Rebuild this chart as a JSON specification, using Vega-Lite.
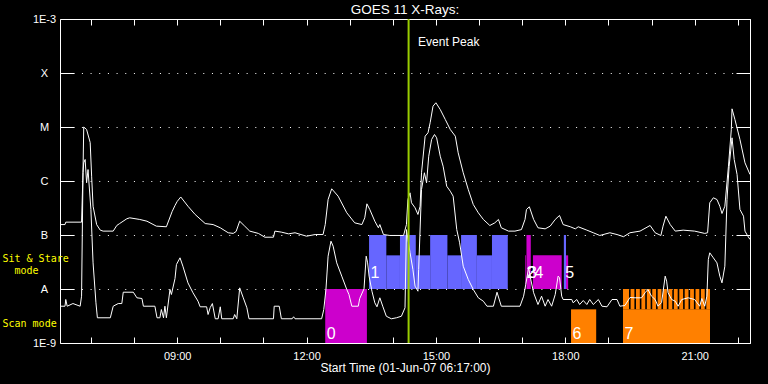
{
  "$schema": "https://vega.github.io/schema/vega-lite/v6.json",
  "width": 690,
  "height": 324,
  "autosize": {"type": "none"},
  "padding": {"left": 60, "top": 19, "right": 18, "bottom": 41},
  "background": "black",
  "title": {"text": "GOES 11 X-Rays:", "color": "white", "font": "Liberation Sans", "fontSize": 13.5, "fontWeight": "normal", "anchor": "middle", "baseline": "alphabetic", "offset": -14.5},
  "config": {
    "view": {"stroke": "white", "strokeWidth": 1},
    "axis": {"domain": false, "tickColor": "white", "labelColor": "white", "titleColor": "white", "labelFont": "Liberation Sans", "titleFont": "Liberation Sans", "titleFontWeight": "normal", "gridColor": "white", "labelFlush": false, "labelOverlap": false, "labelBound": false}
  },
  "datasets": {
    "xr": [
      {"time":"2007-06-01T06:17","flux":1.56e-7,"band":"long"},
      {"time":"2007-06-01T06:24","flux":1.56e-7,"band":"long"},
      {"time":"2007-06-01T06:25","flux":1.73e-7,"band":"long"},
      {"time":"2007-06-01T06:47","flux":1.73e-7,"band":"long"},
      {"time":"2007-06-01T06:49","flux":1.44e-6,"band":"long"},
      {"time":"2007-06-01T06:50","flux":1.0e-5,"band":"long"},
      {"time":"2007-06-01T06:54","flux":9.0e-6,"band":"long"},
      {"time":"2007-06-01T06:59","flux":5.16e-6,"band":"long"},
      {"time":"2007-06-01T07:01","flux":1.23e-6,"band":"long"},
      {"time":"2007-06-01T07:03","flux":3.41e-7,"band":"long"},
      {"time":"2007-06-01T07:08","flux":1.56e-7,"band":"long"},
      {"time":"2007-06-01T07:13","flux":1.23e-7,"band":"long"},
      {"time":"2007-06-01T07:17","flux":1.18e-7,"band":"long"},
      {"time":"2007-06-01T07:31","flux":1.18e-7,"band":"long"},
      {"time":"2007-06-01T07:36","flux":1.50e-7,"band":"long"},
      {"time":"2007-06-01T07:40","flux":1.63e-7,"band":"long"},
      {"time":"2007-06-01T07:50","flux":2.0e-7,"band":"long"},
      {"time":"2007-06-01T07:54","flux":2.08e-7,"band":"long"},
      {"time":"2007-06-01T08:08","flux":1.94e-7,"band":"long"},
      {"time":"2007-06-01T08:18","flux":1.80e-7,"band":"long"},
      {"time":"2007-06-01T08:31","flux":1.46e-7,"band":"long"},
      {"time":"2007-06-01T08:45","flux":1.42e-7,"band":"long"},
      {"time":"2007-06-01T08:53","flux":2.72e-7,"band":"long"},
      {"time":"2007-06-01T08:57","flux":3.52e-7,"band":"long"},
      {"time":"2007-06-01T09:00","flux":4.17e-7,"band":"long"},
      {"time":"2007-06-01T09:05","flux":5.06e-7,"band":"long"},
      {"time":"2007-06-01T09:15","flux":3.41e-7,"band":"long"},
      {"time":"2007-06-01T09:25","flux":2.40e-7,"band":"long"},
      {"time":"2007-06-01T09:39","flux":1.63e-7,"band":"long"},
      {"time":"2007-06-01T09:50","flux":1.56e-7,"band":"long"},
      {"time":"2007-06-01T10:00","flux":1.36e-7,"band":"long"},
      {"time":"2007-06-01T10:11","flux":1.10e-7,"band":"long"},
      {"time":"2007-06-01T10:18","flux":1.07e-7,"band":"long"},
      {"time":"2007-06-01T10:22","flux":1.16e-7,"band":"long"},
      {"time":"2007-06-01T10:27","flux":1.80e-7,"band":"long"},
      {"time":"2007-06-01T10:34","flux":1.46e-7,"band":"long"},
      {"time":"2007-06-01T10:41","flux":1.18e-7,"band":"long"},
      {"time":"2007-06-01T10:53","flux":1.07e-7,"band":"long"},
      {"time":"2007-06-01T11:02","flux":9.1e-8,"band":"long"},
      {"time":"2007-06-01T11:14","flux":9.1e-8,"band":"long"},
      {"time":"2007-06-01T11:16","flux":1.18e-7,"band":"long"},
      {"time":"2007-06-01T11:25","flux":1.13e-7,"band":"long"},
      {"time":"2007-06-01T11:35","flux":1.05e-7,"band":"long"},
      {"time":"2007-06-01T11:44","flux":1.10e-7,"band":"long"},
      {"time":"2007-06-01T12:00","flux":9.5e-8,"band":"long"},
      {"time":"2007-06-01T12:12","flux":1.02e-7,"band":"long"},
      {"time":"2007-06-01T12:23","flux":1.02e-7,"band":"long"},
      {"time":"2007-06-01T12:26","flux":1.56e-7,"band":"long"},
      {"time":"2007-06-01T12:30","flux":4.54e-7,"band":"long"},
      {"time":"2007-06-01T12:35","flux":7.17e-7,"band":"long"},
      {"time":"2007-06-01T12:44","flux":5.23e-7,"band":"long"},
      {"time":"2007-06-01T12:56","flux":2.58e-7,"band":"long"},
      {"time":"2007-06-01T13:07","flux":1.68e-7,"band":"long"},
      {"time":"2007-06-01T13:17","flux":1.56e-7,"band":"long"},
      {"time":"2007-06-01T13:21","flux":2.08e-7,"band":"long"},
      {"time":"2007-06-01T13:24","flux":3.78e-7,"band":"long"},
      {"time":"2007-06-01T13:28","flux":2.97e-7,"band":"long"},
      {"time":"2007-06-01T13:35","flux":1.80e-7,"band":"long"},
      {"time":"2007-06-01T13:40","flux":1.36e-7,"band":"long"},
      {"time":"2007-06-01T13:42","flux":1.56e-7,"band":"long"},
      {"time":"2007-06-01T13:47","flux":1.02e-7,"band":"long"},
      {"time":"2007-06-01T13:56","flux":9.8e-8,"band":"long"},
      {"time":"2007-06-01T14:15","flux":9.8e-8,"band":"long"},
      {"time":"2007-06-01T14:19","flux":1.56e-7,"band":"long"},
      {"time":"2007-06-01T14:21","flux":4.54e-7,"band":"long"},
      {"time":"2007-06-01T14:24","flux":6.04e-7,"band":"long"},
      {"time":"2007-06-01T14:26","flux":3.95e-7,"band":"long"},
      {"time":"2007-06-01T14:31","flux":3.19e-7,"band":"long"},
      {"time":"2007-06-01T14:35","flux":2.40e-7,"band":"long"},
      {"time":"2007-06-01T14:38","flux":3.41e-7,"band":"long"},
      {"time":"2007-06-01T14:40","flux":1.42e-6,"band":"long"},
      {"time":"2007-06-01T14:45","flux":6.76e-6,"band":"long"},
      {"time":"2007-06-01T14:49","flux":7.81e-6,"band":"long"},
      {"time":"2007-06-01T14:52","flux":1.20e-5,"band":"long"},
      {"time":"2007-06-01T14:56","flux":2.43e-5,"band":"long"},
      {"time":"2007-06-01T15:00","flux":2.81e-5,"band":"long"},
      {"time":"2007-06-01T15:06","flux":2.11e-5,"band":"long"},
      {"time":"2007-06-01T15:13","flux":1.38e-5,"band":"long"},
      {"time":"2007-06-01T15:20","flux":9.0e-6,"band":"long"},
      {"time":"2007-06-01T15:27","flux":6.76e-6,"band":"long"},
      {"time":"2007-06-01T15:31","flux":3.33e-6,"band":"long"},
      {"time":"2007-06-01T15:38","flux":1.42e-6,"band":"long"},
      {"time":"2007-06-01T15:45","flux":6.96e-7,"band":"long"},
      {"time":"2007-06-01T15:52","flux":3.67e-7,"band":"long"},
      {"time":"2007-06-01T15:59","flux":2.58e-7,"band":"long"},
      {"time":"2007-06-01T16:06","flux":1.94e-7,"band":"long"},
      {"time":"2007-06-01T16:15","flux":1.50e-7,"band":"long"},
      {"time":"2007-06-01T16:22","flux":1.68e-7,"band":"long"},
      {"time":"2007-06-01T16:27","flux":1.94e-7,"band":"long"},
      {"time":"2007-06-01T16:31","flux":1.36e-7,"band":"long"},
      {"time":"2007-06-01T16:41","flux":1.18e-7,"band":"long"},
      {"time":"2007-06-01T16:50","flux":1.18e-7,"band":"long"},
      {"time":"2007-06-01T16:59","flux":1.26e-7,"band":"long"},
      {"time":"2007-06-01T17:04","flux":1.94e-7,"band":"long"},
      {"time":"2007-06-01T17:06","flux":2.97e-7,"band":"long"},
      {"time":"2007-06-01T17:10","flux":3.33e-7,"band":"long"},
      {"time":"2007-06-01T17:16","flux":1.94e-7,"band":"long"},
      {"time":"2007-06-01T17:22","flux":1.36e-7,"band":"long"},
      {"time":"2007-06-01T17:32","flux":1.30e-7,"band":"long"},
      {"time":"2007-06-01T17:39","flux":1.46e-7,"band":"long"},
      {"time":"2007-06-01T17:46","flux":1.94e-7,"band":"long"},
      {"time":"2007-06-01T17:52","flux":2.30e-7,"band":"long"},
      {"time":"2007-06-01T17:57","flux":1.56e-7,"band":"long"},
      {"time":"2007-06-01T18:07","flux":1.42e-7,"band":"long"},
      {"time":"2007-06-01T18:14","flux":1.30e-7,"band":"long"},
      {"time":"2007-06-01T18:18","flux":1.42e-7,"band":"long"},
      {"time":"2007-06-01T18:30","flux":1.23e-7,"band":"long"},
      {"time":"2007-06-01T18:39","flux":1.10e-7,"band":"long"},
      {"time":"2007-06-01T18:48","flux":9.8e-8,"band":"long"},
      {"time":"2007-06-01T19:02","flux":1.10e-7,"band":"long"},
      {"time":"2007-06-01T19:12","flux":1.02e-7,"band":"long"},
      {"time":"2007-06-01T19:21","flux":9.3e-8,"band":"long"},
      {"time":"2007-06-01T19:30","flux":1.10e-7,"band":"long"},
      {"time":"2007-06-01T19:44","flux":1.18e-7,"band":"long"},
      {"time":"2007-06-01T19:58","flux":1.50e-7,"band":"long"},
      {"time":"2007-06-01T20:05","flux":1.10e-7,"band":"long"},
      {"time":"2007-06-01T20:13","flux":9.8e-8,"band":"long"},
      {"time":"2007-06-01T20:16","flux":1.46e-7,"band":"long"},
      {"time":"2007-06-01T20:20","flux":2.23e-7,"band":"long"},
      {"time":"2007-06-01T20:26","flux":1.56e-7,"band":"long"},
      {"time":"2007-06-01T20:33","flux":1.18e-7,"band":"long"},
      {"time":"2007-06-01T20:44","flux":1.23e-7,"band":"long"},
      {"time":"2007-06-01T21:00","flux":1.18e-7,"band":"long"},
      {"time":"2007-06-01T21:14","flux":1.07e-7,"band":"long"},
      {"time":"2007-06-01T21:18","flux":1.10e-7,"band":"long"},
      {"time":"2007-06-01T21:21","flux":3.95e-7,"band":"long"},
      {"time":"2007-06-01T21:26","flux":4.89e-7,"band":"long"},
      {"time":"2007-06-01T21:31","flux":4.54e-7,"band":"long"},
      {"time":"2007-06-01T21:35","flux":3.41e-7,"band":"long"},
      {"time":"2007-06-01T21:38","flux":2.50e-7,"band":"long"},
      {"time":"2007-06-01T21:42","flux":3.41e-7,"band":"long"},
      {"time":"2007-06-01T21:47","flux":1.88e-6,"band":"long"},
      {"time":"2007-06-01T21:51","flux":9.0e-6,"band":"long"},
      {"time":"2007-06-01T21:52","flux":2.17e-5,"band":"long"},
      {"time":"2007-06-01T21:56","flux":1.38e-5,"band":"long"},
      {"time":"2007-06-01T22:03","flux":5.87e-6,"band":"long"},
      {"time":"2007-06-01T22:10","flux":2.17e-6,"band":"long"},
      {"time":"2007-06-01T22:17","flux":1.32e-6,"band":"long"},
      {"time":"2007-06-01T06:17","flux":4.80e-9,"band":"short"},
      {"time":"2007-06-01T06:24","flux":4.80e-9,"band":"short"},
      {"time":"2007-06-01T06:25","flux":6.39e-9,"band":"short"},
      {"time":"2007-06-01T06:27","flux":4.80e-9,"band":"short"},
      {"time":"2007-06-01T06:35","flux":5.38e-9,"band":"short"},
      {"time":"2007-06-01T06:45","flux":4.80e-9,"band":"short"},
      {"time":"2007-06-01T06:47","flux":7.36e-9,"band":"short"},
      {"time":"2007-06-01T06:49","flux":1.42e-6,"band":"short"},
      {"time":"2007-06-01T06:50","flux":2.17e-6,"band":"short"},
      {"time":"2007-06-01T06:52","flux":2.50e-6,"band":"short"},
      {"time":"2007-06-01T06:54","flux":9.27e-7,"band":"short"},
      {"time":"2007-06-01T06:56","flux":1.63e-6,"band":"short"},
      {"time":"2007-06-01T07:00","flux":2.97e-7,"band":"short"},
      {"time":"2007-06-01T07:03","flux":3.05e-8,"band":"short"},
      {"time":"2007-06-01T07:07","flux":5.55e-9,"band":"short"},
      {"time":"2007-06-01T07:09","flux":2.93e-9,"band":"short"},
      {"time":"2007-06-01T07:27","flux":2.93e-9,"band":"short"},
      {"time":"2007-06-01T07:31","flux":4.80e-9,"band":"short"},
      {"time":"2007-06-01T07:38","flux":5.38e-9,"band":"short"},
      {"time":"2007-06-01T07:43","flux":5.38e-9,"band":"short"},
      {"time":"2007-06-01T07:45","flux":8.72e-9,"band":"short"},
      {"time":"2007-06-01T07:59","flux":8.72e-9,"band":"short"},
      {"time":"2007-06-01T08:04","flux":6.87e-9,"band":"short"},
      {"time":"2007-06-01T08:11","flux":6.67e-9,"band":"short"},
      {"time":"2007-06-01T08:13","flux":4.80e-9,"band":"short"},
      {"time":"2007-06-01T08:29","flux":4.80e-9,"band":"short"},
      {"time":"2007-06-01T08:32","flux":2.93e-9,"band":"short"},
      {"time":"2007-06-01T08:36","flux":2.93e-9,"band":"short"},
      {"time":"2007-06-01T08:38","flux":4.17e-9,"band":"short"},
      {"time":"2007-06-01T08:41","flux":2.93e-9,"band":"short"},
      {"time":"2007-06-01T08:43","flux":4.80e-9,"band":"short"},
      {"time":"2007-06-01T08:45","flux":2.93e-9,"band":"short"},
      {"time":"2007-06-01T08:50","flux":9.8e-9,"band":"short"},
      {"time":"2007-06-01T08:52","flux":7.91e-9,"band":"short"},
      {"time":"2007-06-01T08:57","flux":1.56e-8,"band":"short"},
      {"time":"2007-06-01T08:59","flux":2.84e-8,"band":"short"},
      {"time":"2007-06-01T09:04","flux":3.78e-8,"band":"short"},
      {"time":"2007-06-01T09:08","flux":2.64e-8,"band":"short"},
      {"time":"2007-06-01T09:15","flux":1.30e-8,"band":"short"},
      {"time":"2007-06-01T09:22","flux":8.51e-9,"band":"short"},
      {"time":"2007-06-01T09:29","flux":5.94e-9,"band":"short"},
      {"time":"2007-06-01T09:32","flux":4.68e-9,"band":"short"},
      {"time":"2007-06-01T09:41","flux":4.68e-9,"band":"short"},
      {"time":"2007-06-01T09:43","flux":3.37e-9,"band":"short"},
      {"time":"2007-06-01T09:46","flux":4.54e-9,"band":"short"},
      {"time":"2007-06-01T09:49","flux":5.38e-9,"band":"short"},
      {"time":"2007-06-01T09:53","flux":2.81e-9,"band":"short"},
      {"time":"2007-06-01T09:57","flux":2.81e-9,"band":"short"},
      {"time":"2007-06-01T10:00","flux":4.68e-9,"band":"short"},
      {"time":"2007-06-01T10:02","flux":2.81e-9,"band":"short"},
      {"time":"2007-06-01T10:18","flux":2.81e-9,"band":"short"},
      {"time":"2007-06-01T10:20","flux":3.37e-9,"band":"short"},
      {"time":"2007-06-01T10:23","flux":2.81e-9,"band":"short"},
      {"time":"2007-06-01T10:27","flux":1.05e-8,"band":"short"},
      {"time":"2007-06-01T10:32","flux":6.87e-9,"band":"short"},
      {"time":"2007-06-01T10:37","flux":4.49e-9,"band":"short"},
      {"time":"2007-06-01T10:40","flux":2.81e-9,"band":"short"},
      {"time":"2007-06-01T11:14","flux":2.81e-9,"band":"short"},
      {"time":"2007-06-01T11:15","flux":4.80e-9,"band":"short"},
      {"time":"2007-06-01T11:22","flux":4.80e-9,"band":"short"},
      {"time":"2007-06-01T11:25","flux":2.81e-9,"band":"short"},
      {"time":"2007-06-01T11:40","flux":2.81e-9,"band":"short"},
      {"time":"2007-06-01T11:42","flux":3.06e-9,"band":"short"},
      {"time":"2007-06-01T11:44","flux":2.81e-9,"band":"short"},
      {"time":"2007-06-01T12:21","flux":2.81e-9,"band":"short"},
      {"time":"2007-06-01T12:24","flux":4.17e-9,"band":"short"},
      {"time":"2007-06-01T12:27","flux":9.8e-9,"band":"short"},
      {"time":"2007-06-01T12:30","flux":4.05e-8,"band":"short"},
      {"time":"2007-06-01T12:34","flux":7.68e-8,"band":"short"},
      {"time":"2007-06-01T12:37","flux":6.2e-8,"band":"short"},
      {"time":"2007-06-01T12:42","flux":3.05e-8,"band":"short"},
      {"time":"2007-06-01T12:49","flux":1.73e-8,"band":"short"},
      {"time":"2007-06-01T12:56","flux":9.8e-9,"band":"short"},
      {"time":"2007-06-01T12:59","flux":7.91e-9,"band":"short"},
      {"time":"2007-06-01T13:03","flux":4.80e-9,"band":"short"},
      {"time":"2007-06-01T13:12","flux":4.80e-9,"band":"short"},
      {"time":"2007-06-01T13:14","flux":6.67e-9,"band":"short"},
      {"time":"2007-06-01T13:20","flux":1.01e-8,"band":"short"},
      {"time":"2007-06-01T13:23","flux":4.05e-8,"band":"short"},
      {"time":"2007-06-01T13:25","flux":3.05e-8,"band":"short"},
      {"time":"2007-06-01T13:27","flux":1.73e-8,"band":"short"},
      {"time":"2007-06-01T13:31","flux":9.1e-9,"band":"short"},
      {"time":"2007-06-01T13:35","flux":5.55e-9,"band":"short"},
      {"time":"2007-06-01T13:38","flux":4.68e-9,"band":"short"},
      {"time":"2007-06-01T13:42","flux":6.87e-9,"band":"short"},
      {"time":"2007-06-01T13:46","flux":4.80e-9,"band":"short"},
      {"time":"2007-06-01T13:51","flux":3.13e-9,"band":"short"},
      {"time":"2007-06-01T13:58","flux":2.81e-9,"band":"short"},
      {"time":"2007-06-01T14:05","flux":2.93e-9,"band":"short"},
      {"time":"2007-06-01T14:12","flux":3.13e-9,"band":"short"},
      {"time":"2007-06-01T14:17","flux":4.49e-9,"band":"short"},
      {"time":"2007-06-01T14:19","flux":1.26e-7,"band":"short"},
      {"time":"2007-06-01T14:24","flux":4.74e-8,"band":"short"},
      {"time":"2007-06-01T14:28","flux":2.30e-8,"band":"short"},
      {"time":"2007-06-01T14:31","flux":1.13e-8,"band":"short"},
      {"time":"2007-06-01T14:35","flux":9.1e-9,"band":"short"},
      {"time":"2007-06-01T14:36","flux":2.30e-8,"band":"short"},
      {"time":"2007-06-01T14:40","flux":6.96e-7,"band":"short"},
      {"time":"2007-06-01T14:44","flux":1.42e-6,"band":"short"},
      {"time":"2007-06-01T14:47","flux":9.27e-7,"band":"short"},
      {"time":"2007-06-01T14:50","flux":2.88e-6,"band":"short"},
      {"time":"2007-06-01T14:54","flux":5.87e-6,"band":"short"},
      {"time":"2007-06-01T14:58","flux":7.26e-6,"band":"short"},
      {"time":"2007-06-01T15:01","flux":6.31e-6,"band":"short"},
      {"time":"2007-06-01T15:06","flux":2.88e-6,"band":"short"},
      {"time":"2007-06-01T15:10","flux":1.88e-6,"band":"short"},
      {"time":"2007-06-01T15:15","flux":8.01e-7,"band":"short"},
      {"time":"2007-06-01T15:20","flux":6.47e-7,"band":"short"},
      {"time":"2007-06-01T15:24","flux":5.23e-7,"band":"short"},
      {"time":"2007-06-01T15:29","flux":1.26e-7,"band":"short"},
      {"time":"2007-06-01T15:33","flux":7.17e-8,"band":"short"},
      {"time":"2007-06-01T15:38","flux":2.64e-8,"band":"short"},
      {"time":"2007-06-01T15:45","flux":1.50e-8,"band":"short"},
      {"time":"2007-06-01T15:52","flux":9.8e-9,"band":"short"},
      {"time":"2007-06-01T15:59","flux":6.87e-9,"band":"short"},
      {"time":"2007-06-01T16:06","flux":5.94e-9,"band":"short"},
      {"time":"2007-06-01T16:11","flux":4.80e-9,"band":"short"},
      {"time":"2007-06-01T16:20","flux":4.80e-9,"band":"short"},
      {"time":"2007-06-01T16:25","flux":8.72e-9,"band":"short"},
      {"time":"2007-06-01T16:31","flux":4.80e-9,"band":"short"},
      {"time":"2007-06-01T16:57","flux":4.80e-9,"band":"short"},
      {"time":"2007-06-01T17:02","flux":7.36e-9,"band":"short"},
      {"time":"2007-06-01T17:05","flux":1.21e-8,"band":"short"},
      {"time":"2007-06-01T17:09","flux":2.50e-8,"band":"short"},
      {"time":"2007-06-01T17:12","flux":1.50e-8,"band":"short"},
      {"time":"2007-06-01T17:16","flux":8.51e-9,"band":"short"},
      {"time":"2007-06-01T17:22","flux":5.16e-9,"band":"short"},
      {"time":"2007-06-01T17:27","flux":7.36e-9,"band":"short"},
      {"time":"2007-06-01T17:32","flux":4.80e-9,"band":"short"},
      {"time":"2007-06-01T17:36","flux":6.39e-9,"band":"short"},
      {"time":"2007-06-01T17:41","flux":4.80e-9,"band":"short"},
      {"time":"2007-06-01T17:46","flux":7.91e-9,"band":"short"},
      {"time":"2007-06-01T17:50","flux":1.73e-8,"band":"short"},
      {"time":"2007-06-01T17:52","flux":1.63e-8,"band":"short"},
      {"time":"2007-06-01T17:55","flux":7.36e-9,"band":"short"},
      {"time":"2007-06-01T17:57","flux":6.39e-9,"band":"short"},
      {"time":"2007-06-01T18:09","flux":6.39e-9,"band":"short"},
      {"time":"2007-06-01T18:11","flux":5.55e-9,"band":"short"},
      {"time":"2007-06-01T18:16","flux":6.39e-9,"band":"short"},
      {"time":"2007-06-01T18:20","flux":5.16e-9,"band":"short"},
      {"time":"2007-06-01T18:25","flux":6.12e-9,"band":"short"},
      {"time":"2007-06-01T18:30","flux":5.16e-9,"band":"short"},
      {"time":"2007-06-01T18:34","flux":6.39e-9,"band":"short"},
      {"time":"2007-06-01T18:39","flux":5.16e-9,"band":"short"},
      {"time":"2007-06-01T18:46","flux":6.39e-9,"band":"short"},
      {"time":"2007-06-01T18:51","flux":4.80e-9,"band":"short"},
      {"time":"2007-06-01T18:58","flux":4.68e-9,"band":"short"},
      {"time":"2007-06-01T19:05","flux":6.39e-9,"band":"short"},
      {"time":"2007-06-01T19:12","flux":6.39e-9,"band":"short"},
      {"time":"2007-06-01T19:16","flux":4.80e-9,"band":"short"},
      {"time":"2007-06-01T19:23","flux":4.95e-9,"band":"short"},
      {"time":"2007-06-01T19:30","flux":6.97e-9,"band":"short"},
      {"time":"2007-06-01T19:37","flux":6.87e-9,"band":"short"},
      {"time":"2007-06-01T19:46","flux":6.87e-9,"band":"short"},
      {"time":"2007-06-01T19:51","flux":8.51e-9,"band":"short"},
      {"time":"2007-06-01T19:55","flux":9.8e-9,"band":"short"},
      {"time":"2007-06-01T20:00","flux":7.36e-9,"band":"short"},
      {"time":"2007-06-01T20:05","flux":6.39e-9,"band":"short"},
      {"time":"2007-06-01T20:09","flux":4.80e-9,"band":"short"},
      {"time":"2007-06-01T20:14","flux":5.62e-9,"band":"short"},
      {"time":"2007-06-01T20:19","flux":1.73e-8,"band":"short"},
      {"time":"2007-06-01T20:21","flux":1.40e-8,"band":"short"},
      {"time":"2007-06-01T20:23","flux":8.51e-9,"band":"short"},
      {"time":"2007-06-01T20:28","flux":6.39e-9,"band":"short"},
      {"time":"2007-06-01T20:33","flux":5.94e-9,"band":"short"},
      {"time":"2007-06-01T20:37","flux":4.80e-9,"band":"short"},
      {"time":"2007-06-01T20:42","flux":6.39e-9,"band":"short"},
      {"time":"2007-06-01T20:51","flux":6.87e-9,"band":"short"},
      {"time":"2007-06-01T21:00","flux":6.39e-9,"band":"short"},
      {"time":"2007-06-01T21:07","flux":4.80e-9,"band":"short"},
      {"time":"2007-06-01T21:10","flux":6.67e-9,"band":"short"},
      {"time":"2007-06-01T21:14","flux":4.80e-9,"band":"short"},
      {"time":"2007-06-01T21:17","flux":7.36e-9,"band":"short"},
      {"time":"2007-06-01T21:19","flux":3.52e-8,"band":"short"},
      {"time":"2007-06-01T21:21","flux":4.68e-8,"band":"short"},
      {"time":"2007-06-01T21:26","flux":3.78e-8,"band":"short"},
      {"time":"2007-06-01T21:31","flux":3.05e-8,"band":"short"},
      {"time":"2007-06-01T21:35","flux":1.73e-8,"band":"short"},
      {"time":"2007-06-01T21:38","flux":1.30e-8,"band":"short"},
      {"time":"2007-06-01T21:42","flux":2.64e-8,"band":"short"},
      {"time":"2007-06-01T21:45","flux":4.54e-7,"band":"short"},
      {"time":"2007-06-01T21:48","flux":1.88e-6,"band":"short"},
      {"time":"2007-06-01T21:52","flux":6.31e-6,"band":"short"},
      {"time":"2007-06-01T21:55","flux":2.50e-6,"band":"short"},
      {"time":"2007-06-01T21:59","flux":1.32e-6,"band":"short"},
      {"time":"2007-06-01T22:03","flux":2.97e-7,"band":"short"},
      {"time":"2007-06-01T22:08","flux":2.23e-7,"band":"short"},
      {"time":"2007-06-01T22:10","flux":1.18e-7,"band":"short"},
      {"time":"2007-06-01T22:14","flux":9.5e-8,"band":"short"},
      {"time":"2007-06-01T22:17","flux":8.26e-8,"band":"short"}
    ],
    "blocks": [
      {"start":"2007-06-01T12:26:00","end":"2007-06-01T13:24:00","lo":1e-9,"hi":1e-8,"program":"P1","mode":"scan","label":"0"},
      {"start":"2007-06-01T13:27:00","end":"2007-06-01T13:51:00","lo":1e-8,"hi":1e-7,"program":"P2","mode":"sit","label":"1"},
      {"start":"2007-06-01T13:51:00","end":"2007-06-01T14:10:00","lo":1e-8,"hi":4.2e-8,"program":"P2","mode":"sit"},
      {"start":"2007-06-01T14:10:00","end":"2007-06-01T14:32:00","lo":1e-8,"hi":1e-7,"program":"P2","mode":"sit"},
      {"start":"2007-06-01T14:32:00","end":"2007-06-01T14:52:00","lo":1e-8,"hi":4.2e-8,"program":"P2","mode":"sit"},
      {"start":"2007-06-01T14:52:00","end":"2007-06-01T15:16:00","lo":1e-8,"hi":1e-7,"program":"P2","mode":"sit"},
      {"start":"2007-06-01T15:16:00","end":"2007-06-01T15:35:00","lo":1e-8,"hi":4.2e-8,"program":"P2","mode":"sit"},
      {"start":"2007-06-01T15:35:00","end":"2007-06-01T15:57:00","lo":1e-8,"hi":1e-7,"program":"P2","mode":"sit"},
      {"start":"2007-06-01T15:57:00","end":"2007-06-01T16:18:00","lo":1e-8,"hi":4.2e-8,"program":"P2","mode":"sit"},
      {"start":"2007-06-01T16:18:00","end":"2007-06-01T16:40:00","lo":1e-8,"hi":1e-7,"program":"P2","mode":"sit"},
      {"start":"2007-06-01T17:04:00","end":"2007-06-01T17:05:00","lo":1e-8,"hi":4.2e-8,"program":"P1","mode":"sit","label":"2"},
      {"start":"2007-06-01T17:06:00","end":"2007-06-01T17:12:00","lo":1e-8,"hi":1e-7,"program":"P1","mode":"sit","label":"3"},
      {"start":"2007-06-01T17:15:00","end":"2007-06-01T17:55:00","lo":1e-8,"hi":4.2e-8,"program":"P1","mode":"sit","label":"4"},
      {"start":"2007-06-01T17:58:00","end":"2007-06-01T18:01:00","lo":1e-8,"hi":1e-7,"program":"P2","mode":"sit","label":"5"},
      {"start":"2007-06-01T18:01:00","end":"2007-06-01T18:04:00","lo":1e-8,"hi":4.2e-8,"program":"P1","mode":"sit"},
      {"start":"2007-06-01T18:08:00","end":"2007-06-01T18:43:00","lo":1e-9,"hi":4.2e-9,"program":"P3","mode":"scan","label":"6"},
      {"start":"2007-06-01T19:20:18","end":"2007-06-01T21:21:21","lo":1e-9,"hi":4.2e-9,"program":"P3","mode":"scan","label":"7"},
      {"start":"2007-06-01T19:20:18","end":"2007-06-01T19:28:39","lo":4.2e-9,"hi":1e-8,"program":"P3","mode":"scan"},
      {"start":"2007-06-01T19:30:52","end":"2007-06-01T19:36:10","lo":4.2e-9,"hi":1e-8,"program":"P3","mode":"scan"},
      {"start":"2007-06-01T19:38:24","end":"2007-06-01T19:43:42","lo":4.2e-9,"hi":1e-8,"program":"P3","mode":"scan"},
      {"start":"2007-06-01T19:45:56","end":"2007-06-01T19:51:14","lo":4.2e-9,"hi":1e-8,"program":"P3","mode":"scan"},
      {"start":"2007-06-01T19:53:28","end":"2007-06-01T19:58:46","lo":4.2e-9,"hi":1e-8,"program":"P3","mode":"scan"},
      {"start":"2007-06-01T20:00:59","end":"2007-06-01T20:06:17","lo":4.2e-9,"hi":1e-8,"program":"P3","mode":"scan"},
      {"start":"2007-06-01T20:08:31","end":"2007-06-01T20:13:49","lo":4.2e-9,"hi":1e-8,"program":"P3","mode":"scan"},
      {"start":"2007-06-01T20:16:02","end":"2007-06-01T20:21:20","lo":4.2e-9,"hi":1e-8,"program":"P3","mode":"scan"},
      {"start":"2007-06-01T20:23:34","end":"2007-06-01T20:28:52","lo":4.2e-9,"hi":1e-8,"program":"P3","mode":"scan"},
      {"start":"2007-06-01T20:31:05","end":"2007-06-01T20:36:23","lo":4.2e-9,"hi":1e-8,"program":"P3","mode":"scan"},
      {"start":"2007-06-01T20:38:37","end":"2007-06-01T20:43:55","lo":4.2e-9,"hi":1e-8,"program":"P3","mode":"scan"},
      {"start":"2007-06-01T20:46:09","end":"2007-06-01T20:51:27","lo":4.2e-9,"hi":1e-8,"program":"P3","mode":"scan"},
      {"start":"2007-06-01T20:53:40","end":"2007-06-01T20:58:58","lo":4.2e-9,"hi":1e-8,"program":"P3","mode":"scan"},
      {"start":"2007-06-01T21:01:12","end":"2007-06-01T21:06:30","lo":4.2e-9,"hi":1e-8,"program":"P3","mode":"scan"},
      {"start":"2007-06-01T21:08:44","end":"2007-06-01T21:14:02","lo":4.2e-9,"hi":1e-8,"program":"P3","mode":"scan"},
      {"start":"2007-06-01T21:16:15","end":"2007-06-01T21:21:21","lo":4.2e-9,"hi":1e-8,"program":"P3","mode":"scan"}
    ],
    "peak": [{"time":"2007-06-01T14:22:00","label":"Event Peak"}]
  },
  "layer": [
    {
      "data": {"name": "blocks"},
      "mark": {"type": "rect"},
      "encoding": {
        "x": {"field": "start", "type": "temporal",
          "scale": {"type": "time", "nice": false, "domain": [{"year":2007,"month":6,"date":1,"hours":6,"minutes":17},{"year":2007,"month":6,"date":1,"hours":22,"minutes":17}]},
          "axis": {"orient": "bottom", "title": "Start Time (01-Jun-07 06:17:00)", "titleFontSize": 12, "titlePadding": 1,
            "values": [{"year":2007,"month":6,"date":1,"hours":7},{"year":2007,"month":6,"date":1,"hours":8},{"year":2007,"month":6,"date":1,"hours":9},{"year":2007,"month":6,"date":1,"hours":10},{"year":2007,"month":6,"date":1,"hours":11},{"year":2007,"month":6,"date":1,"hours":12},{"year":2007,"month":6,"date":1,"hours":13},{"year":2007,"month":6,"date":1,"hours":14},{"year":2007,"month":6,"date":1,"hours":15},{"year":2007,"month":6,"date":1,"hours":16},{"year":2007,"month":6,"date":1,"hours":17},{"year":2007,"month":6,"date":1,"hours":18},{"year":2007,"month":6,"date":1,"hours":19},{"year":2007,"month":6,"date":1,"hours":20},{"year":2007,"month":6,"date":1,"hours":21},{"year":2007,"month":6,"date":1,"hours":22}],
            "labelExpr": "hours(datum.value) % 3 == 0 ? timeFormat(datum.value, '%H:%M') : ''",
            "tickSize": -6, "labelPadding": 13, "labelFontSize": 11, "labelBaseline": "top", "grid": false}},
        "x2": {"field": "end"},
        "y": {"field": "lo", "type": "quantitative",
          "scale": {"type": "log", "domain": [1e-9, 1e-3], "nice": false},
          "axis": {"orient": "left", "title": null, "grid": false,
            "values": [1e-9, 2.3e-9, 1e-8, 3.67e-8, 1e-7, 1e-6, 1e-5, 1e-4, 1e-3],
            "labelExpr": "datum.value < 1.5e-9 ? '1E-9' : datum.value < 5e-9 ? 'Scan mode' : datum.value < 1.5e-8 ? 'A' : datum.value < 5e-8 ? ['Sit & Stare', '\u200b\u00a0\u00a0mode'] : datum.value < 5e-7 ? 'B' : datum.value < 5e-6 ? 'C' : datum.value < 5e-5 ? 'M' : datum.value < 5e-4 ? 'X' : '1E-3'",
            "tickSize": -14,
            "tickOpacity": {"condition": {"test": "(datum.value > 1.5e-9 && datum.value < 5e-9) || (datum.value > 1.5e-8 && datum.value < 5e-8)", "value": 0}, "value": 1},
            "labelColor": {"condition": {"test": "(datum.value > 1.5e-9 && datum.value < 5e-9) || (datum.value > 1.5e-8 && datum.value < 5e-8)", "value": "#FFFF00"}, "value": "white"},
            "labelAlign": {"condition": {"test": "(datum.value > 1.5e-9 && datum.value < 5e-9) || (datum.value > 1.5e-8 && datum.value < 5e-8)", "value": "left"}, "value": "center"},
            "labelPadding": {"condition": {"test": "(datum.value > 1.5e-9 && datum.value < 5e-9) || (datum.value > 1.5e-8 && datum.value < 5e-8)", "value": 72}, "value": 30},
            "labelFont": {"condition": {"test": "(datum.value > 1.5e-9 && datum.value < 5e-9) || (datum.value > 1.5e-8 && datum.value < 5e-8)", "value": "DejaVu Sans Mono"}, "value": "Liberation Sans"},
            "labelFontSize": {"condition": {"test": "(datum.value > 1.5e-9 && datum.value < 5e-9) || (datum.value > 1.5e-8 && datum.value < 5e-8)", "value": 10}, "value": 11},
            "labelBaseline": "middle", "labelLineHeight": 12}},
        "y2": {"field": "hi"},
        "color": {"field": "program", "type": "nominal", "scale": {"domain": ["P1", "P2", "P3"], "range": ["#CC00CC", "#6666FF", "#FF8000"]}, "legend": null}
      }
    },
    {
      "data": {"name": "xr"},
      "mark": {"type": "line", "color": "white", "strokeWidth": 1},
      "encoding": {
        "x": {"field": "time", "type": "temporal",
          "scale": {"type": "time", "nice": false, "domain": [{"year":2007,"month":6,"date":1,"hours":6,"minutes":17},{"year":2007,"month":6,"date":1,"hours":22,"minutes":17}]},
          "axis": {"orient": "top", "title": null, "labels": false, "tickSize": -6, "grid": false,
            "values": [{"year":2007,"month":6,"date":1,"hours":7},{"year":2007,"month":6,"date":1,"hours":8},{"year":2007,"month":6,"date":1,"hours":9},{"year":2007,"month":6,"date":1,"hours":10},{"year":2007,"month":6,"date":1,"hours":11},{"year":2007,"month":6,"date":1,"hours":12},{"year":2007,"month":6,"date":1,"hours":13},{"year":2007,"month":6,"date":1,"hours":14},{"year":2007,"month":6,"date":1,"hours":15},{"year":2007,"month":6,"date":1,"hours":16},{"year":2007,"month":6,"date":1,"hours":17},{"year":2007,"month":6,"date":1,"hours":18},{"year":2007,"month":6,"date":1,"hours":19},{"year":2007,"month":6,"date":1,"hours":20},{"year":2007,"month":6,"date":1,"hours":21},{"year":2007,"month":6,"date":1,"hours":22}]}},
        "y": {"field": "flux", "type": "quantitative",
          "scale": {"type": "log", "domain": [1e-9, 1e-3], "nice": false},
          "axis": {"orient": "right", "title": null, "labels": false, "tickSize": -14, "grid": true, "gridDash": [1, 7.67], "gridColor": "white", "gridOpacity": 1,
            "values": [1e-9, 1e-8, 1e-7, 1e-6, 1e-5, 1e-4, 1e-3]}},
        "detail": {"field": "band", "type": "nominal"}
      }
    },
    {
      "data": {"name": "peak"},
      "mark": {"type": "rule", "color": "#99CC00", "strokeWidth": 2},
      "encoding": {
        "x": {"field": "time", "type": "temporal", "axis": null}
      }
    },
    {
      "data": {"name": "peak"},
      "mark": {"type": "text", "color": "white", "align": "left", "baseline": "alphabetic", "dx": 9.5, "dy": 27, "font": "Liberation Sans", "fontSize": 12},
      "encoding": {
        "x": {"field": "time", "type": "temporal", "axis": null},
        "y": {"datum": 0.001, "type": "quantitative", "axis": null},
        "text": {"field": "label"}
      }
    },
    {
      "data": {"name": "blocks"},
      "transform": [{"filter": "datum.label != null && datum.mode == 'sit'"}],
      "mark": {"type": "text", "color": "white", "align": "left", "baseline": "alphabetic", "dx": 1.5, "dy": -11.5, "font": "Liberation Sans", "fontSize": 16},
      "encoding": {
        "x": {"field": "start", "type": "temporal", "axis": null},
        "y": {"field": "lo", "type": "quantitative", "axis": null},
        "text": {"field": "label"}
      }
    },
    {
      "data": {"name": "blocks"},
      "transform": [{"filter": "datum.label != null && datum.mode == 'scan'"}],
      "mark": {"type": "text", "color": "white", "align": "left", "baseline": "alphabetic", "dx": 1.5, "dy": -4, "font": "Liberation Sans", "fontSize": 16},
      "encoding": {
        "x": {"field": "start", "type": "temporal", "axis": null},
        "y": {"field": "lo", "type": "quantitative", "axis": null},
        "text": {"field": "label"}
      }
    }
  ],
  "resolve": {"axis": {"x": "independent", "y": "independent"}}
}
